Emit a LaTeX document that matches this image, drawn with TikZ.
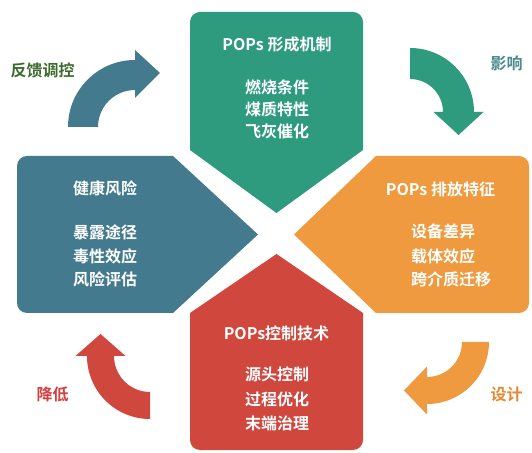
\documentclass[tikz,border=0pt]{standalone}
\usepackage{fontspec}
\setmainfont{Noto Sans CJK SC}[BoldFont={Noto Sans CJK SC Bold}]
\definecolor{cgreen}{HTML}{2E9B7F}
\definecolor{cblue}{HTML}{447A8E}
\definecolor{corange}{HTML}{EF9A3E}
\definecolor{cred}{HTML}{D0473E}
\definecolor{lgreen}{HTML}{3D6B2C}
\definecolor{lteal}{HTML}{4A8A8A}
\definecolor{lorange}{HTML}{E8892F}
\definecolor{lred}{HTML}{D43F3F}
\begin{document}
\begin{tikzpicture}[x=1pt,y=1pt,
  title/.style={text=white,font=\bfseries\fontsize{16}{18}\selectfont,inner sep=0pt},
  item/.style={text=white,font=\bfseries\fontsize{16}{18}\selectfont,inner sep=0pt,anchor=west},
  lab/.style={font=\bfseries\fontsize{16}{18}\selectfont,inner sep=0pt}]
\useasboundingbox (0,0) rectangle (532,452);
\fill[white] (0,0) rectangle (532,452);
% pentagons
\fill[cgreen] (190,302) -- (190,430) arc[start angle=180,end angle=90,radius=10pt] -- (353,440) arc[start angle=90,end angle=0,radius=10pt] -- (363,302) -- (276.5,239) -- cycle;
\fill[cblue] (173,296) -- (27,296) arc[start angle=90,end angle=180,radius=10pt] -- (17,149) arc[start angle=180,end angle=270,radius=10pt] -- (173,139) -- (258,217.5) -- cycle;
\fill[corange] (376,296) -- (519,296) arc[start angle=90,end angle=0,radius=10pt] -- (529,149) arc[start angle=0,end angle=-90,radius=10pt] -- (376,139) -- (294,217.5) -- cycle;
\fill[cred] (190,139) -- (190,12) arc[start angle=180,end angle=270,radius=10pt] -- (353,2) arc[start angle=270,end angle=360,radius=10pt] -- (363,139) -- (276.5,198) -- cycle;
% curved arrows
\fill[cblue] (98,325) arc[start angle=180,end angle=90,radius=37pt] -- (135,354) -- (160,379) -- (135,402) -- (135,392) arc[start angle=90,end angle=180,radius=67pt] -- cycle;
\fill[cgreen] (410,373) arc[start angle=90,end angle=0,radius=33pt] -- (433.5,340) -- (458.5,317) -- (483.5,340) -- (474,340) arc[start angle=0,end angle=90,radius=64pt] -- cycle;
\fill[corange] (462,110) arc[start angle=0,end angle=-90,radius=35pt] -- (427,85.5) -- (404,61.5) -- (427,37.5) -- (427,48) arc[start angle=-90,end angle=0,radius=62pt] -- cycle;
\fill[cred] (150,60) arc[start angle=-90,end angle=-180,radius=36pt] -- (125.5,96) -- (100.5,118) -- (75.5,96) -- (87,96) arc[start angle=-180,end angle=-90,radius=63pt] -- cycle;
% texts
\node[title] (gt) at (277,408) {POPs 形成机制};
\node[item] (g1) at (245,365) {燃烧条件};
\node[item] (g2) at (245,343) {煤质特性};
\node[item] (g3) at (245,321) {飞灰催化};
\node[item] (bt) at (73,264) {健康风险};
\node[item] (b1) at (73,220) {暴露途径};
\node[item] (b2) at (73,196) {毒性效应};
\node[item] (b3) at (73,173) {风险评估};
\node[title] (ot) at (440.5,263) {POPs 排放特征};
\node[item] (o1) at (411,221) {设备差异};
\node[item] (o2) at (411,196) {载体效应};
\node[item] (o3) at (411,173) {跨介质迁移};
\node[title] (rt) at (276.5,119) {POPs控制技术};
\node[item] (r1) at (245,78) {源头控制};
\node[item] (r2) at (245,53) {过程优化};
\node[item] (r3) at (245,29) {末端治理};
% arrow labels
\node[lab,text=lgreen] (l1) at (42.5,382) {反馈调控};
\node[lab,text=lteal] (l2) at (506.5,389) {影响};
\node[lab,text=lorange] (l3) at (506.5,58) {设计};
\node[lab,text=lred] (l4) at (52.5,58) {降低};
\end{tikzpicture}
\end{document}
